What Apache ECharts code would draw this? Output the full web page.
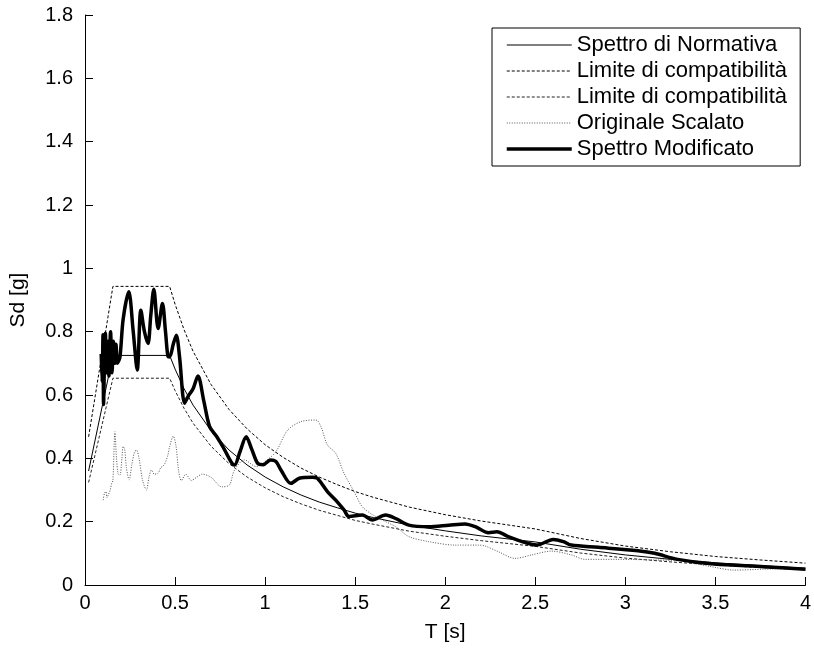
<!DOCTYPE html>
<html>
<head>
<meta charset="utf-8">
<script src="https://cdn.jsdelivr.net/npm/echarts@6/dist/echarts.min.js"></script>
<style>
  html, body { margin: 0; padding: 0; background: #fff; }
  #chart { width: 814px; height: 648px; }
</style>
</head>
<body>
<div id="chart"></div>
<script>
// periodi T [s] per spettro di normativa e limiti
const tNorm = [0.02, 0.155, 0.47, 0.5, 0.55, 0.6, 0.7, 0.8, 0.9, 1.0, 1.1, 1.2, 1.3, 1.4, 1.5, 1.6, 1.8, 2.0, 2.2, 2.5, 2.75, 3.0, 3.25, 3.5, 3.75, 4.0];
const normativa = [0.36, 0.725, 0.725, 0.682, 0.620, 0.568, 0.487, 0.426, 0.379, 0.341, 0.310, 0.284, 0.262, 0.244, 0.227, 0.213, 0.189, 0.171, 0.155, 0.136, 0.113, 0.095, 0.081, 0.070, 0.061, 0.053];
const limSup = [0.468, 0.943, 0.943, 0.887, 0.806, 0.738, 0.633, 0.554, 0.493, 0.443, 0.403, 0.369, 0.341, 0.317, 0.295, 0.277, 0.246, 0.222, 0.202, 0.177, 0.147, 0.123, 0.105, 0.090, 0.079, 0.069];
const limInf = [0.324, 0.653, 0.653, 0.614, 0.558, 0.511, 0.438, 0.383, 0.341, 0.307, 0.279, 0.256, 0.236, 0.220, 0.204, 0.192, 0.170, 0.154, 0.140, 0.122, 0.101, 0.085, 0.073, 0.063, 0.055, 0.048];

// spettro modificato
const tMod = [0.09, 0.095, 0.1, 0.103, 0.108, 0.113, 0.12, 0.128, 0.133, 0.142, 0.15, 0.158, 0.165, 0.172, 0.18, 0.194, 0.212, 0.243, 0.267, 0.29, 0.31, 0.33, 0.35, 0.365, 0.382, 0.406, 0.43, 0.447, 0.461, 0.47, 0.49, 0.507, 0.525, 0.553, 0.572, 0.6, 0.627, 0.66, 0.692, 0.73, 0.765, 0.83, 0.86, 0.895, 0.925, 0.959, 0.99, 1.03, 1.06, 1.088, 1.143, 1.19, 1.263, 1.29, 1.346, 1.392, 1.438, 1.466, 1.54, 1.595, 1.669, 1.725, 1.798, 1.909, 2.02, 2.11, 2.167, 2.24, 2.287, 2.35, 2.444, 2.508, 2.6, 2.656, 2.7, 2.85, 3.07, 3.163, 3.29, 3.495, 3.77, 4.0];
const modificato = [0.73, 0.64, 0.79, 0.57, 0.70, 0.795, 0.67, 0.77, 0.66, 0.80, 0.67, 0.77, 0.70, 0.76, 0.70, 0.72, 0.84, 0.926, 0.805, 0.679, 0.868, 0.80, 0.763, 0.85, 0.934, 0.81, 0.889, 0.80, 0.721, 0.72, 0.76, 0.789, 0.72, 0.574, 0.595, 0.62, 0.66, 0.58, 0.50, 0.47, 0.437, 0.379, 0.42, 0.468, 0.43, 0.384, 0.38, 0.395, 0.39, 0.363, 0.321, 0.337, 0.340, 0.337, 0.295, 0.268, 0.237, 0.216, 0.221, 0.205, 0.221, 0.21, 0.189, 0.184, 0.189, 0.193, 0.184, 0.165, 0.168, 0.153, 0.134, 0.126, 0.144, 0.137, 0.126, 0.119, 0.108, 0.10, 0.081, 0.066, 0.058, 0.050];

// originale scalato
const tOrig = [0.101, 0.108, 0.116, 0.122, 0.129, 0.14, 0.148, 0.155, 0.166, 0.175, 0.184, 0.194, 0.205, 0.212, 0.22, 0.23, 0.245, 0.26, 0.275, 0.286, 0.30, 0.32, 0.341, 0.355, 0.369, 0.385, 0.406, 0.42, 0.44, 0.46, 0.47, 0.49, 0.505, 0.52, 0.535, 0.56, 0.59, 0.62, 0.65, 0.70, 0.76, 0.802, 0.83, 0.885, 0.95, 1.0, 1.06, 1.125, 1.2, 1.282, 1.31, 1.346, 1.392, 1.438, 1.494, 1.54, 1.614, 1.725, 1.798, 1.909, 2.056, 2.185, 2.222, 2.296, 2.388, 2.48, 2.59, 2.70, 2.776, 2.96, 3.163, 3.31, 3.476, 3.605, 3.77, 3.99];
const originale = [0.268, 0.29, 0.295, 0.275, 0.284, 0.30, 0.321, 0.33, 0.484, 0.40, 0.35, 0.347, 0.40, 0.437, 0.43, 0.37, 0.332, 0.38, 0.42, 0.426, 0.40, 0.33, 0.30, 0.34, 0.363, 0.35, 0.353, 0.37, 0.38, 0.41, 0.437, 0.47, 0.44, 0.36, 0.33, 0.35, 0.33, 0.34, 0.35, 0.34, 0.31, 0.316, 0.363, 0.395, 0.374, 0.39, 0.421, 0.489, 0.516, 0.521, 0.50, 0.442, 0.416, 0.353, 0.295, 0.247, 0.216, 0.184, 0.153, 0.137, 0.126, 0.126, 0.123, 0.105, 0.084, 0.095, 0.107, 0.095, 0.081, 0.081, 0.079, 0.076, 0.058, 0.047, 0.050, 0.053];

const pairs = (xs, ys) => xs.map((x, i) => [x, ys[i]]);

const FONT = 'Liberation Sans, Arial, sans-serif';

let chartDiv = document.getElementById('chart');
let myChart = echarts.init(chartDiv, null, { renderer: 'canvas' });

let option = {
  animation: false,
  backgroundColor: '#fff',
  grid: { left: 85, right: 6, top: 15, bottom: 63 },
  legend: {
    orient: 'vertical',
    left: 492,
    top: 28,
    padding: [6, 7, 6, 13],
    itemWidth: 65,
    itemHeight: 14,
    itemGap: 4,
    backgroundColor: '#fff',
    borderColor: '#000',
    borderWidth: 1,
    borderRadius: 0,
    itemStyle: { opacity: 0 },
    textStyle: { fontFamily: FONT, fontSize: 22, color: '#000', lineHeight: 22 },
    data: [
      { name: 'Spettro di Normativa', lineStyle: { width: 1 } },
      { name: 'Limite di compatibilità', lineStyle: { width: 1 } },
      { name: 'Limite di compatibilità ', lineStyle: { width: 1 } },
      { name: 'Originale Scalato', lineStyle: { width: 1 } },
      { name: 'Spettro Modificato', lineStyle: { width: 3.5 } }
    ]
  },
  xAxis: {
    type: 'value',
    min: 0, max: 4, interval: 0.5,
    name: 'T [s]',
    nameLocation: 'middle',
    nameGap: 37,
    nameTextStyle: { fontFamily: FONT, fontSize: 21, color: '#000' },
    axisLine: { show: true, lineStyle: { color: '#000', width: 1 } },
    axisTick: { show: true, inside: true, length: 8, lineStyle: { color: '#000' } },
    axisLabel: { fontFamily: FONT, fontSize: 20, color: '#000', margin: 8 },
    splitLine: { show: false }
  },
  yAxis: {
    type: 'value',
    min: 0, max: 1.8, interval: 0.2,
    name: 'Sd [g]',
    nameLocation: 'middle',
    nameGap: 56,
    nameTextStyle: { fontFamily: FONT, fontSize: 21, color: '#000' },
    axisLine: { show: true, lineStyle: { color: '#000', width: 1 } },
    axisTick: { show: true, inside: true, length: 8, lineStyle: { color: '#000' } },
    axisLabel: { fontFamily: FONT, fontSize: 20, color: '#000', margin: 12 },
    splitLine: { show: false }
  },
  series: [
    {
      name: 'Spettro di Normativa',
      type: 'line', symbol: 'none',
      lineStyle: { color: '#000', width: 1 },
      itemStyle: { color: '#000' },
      data: pairs(tNorm, normativa)
    },
    {
      name: 'Limite di compatibilità',
      type: 'line', symbol: 'none',
      lineStyle: { color: '#000', width: 1, type: [3, 2] },
      itemStyle: { color: '#000' },
      data: pairs(tNorm, limSup)
    },
    {
      name: 'Limite di compatibilità ',
      type: 'line', symbol: 'none',
      lineStyle: { color: '#222', width: 1, type: [3, 2] },
      itemStyle: { color: '#222' },
      data: pairs(tNorm, limInf)
    },
    {
      name: 'Originale Scalato',
      type: 'line', symbol: 'none',
      smooth: 0.3,
      lineStyle: { color: '#555', width: 1, type: [1, 1.5] },
      itemStyle: { color: '#555' },
      data: pairs(tOrig, originale)
    },
    {
      name: 'Spettro Modificato',
      type: 'line', symbol: 'none',
      smooth: 0.3,
      lineStyle: { color: '#000', width: 3.5 },
      itemStyle: { color: '#000' },
      z: 5,
      data: pairs(tMod, modificato)
    }
  ]
};

myChart.setOption(option);
</script>
</body>
</html>
